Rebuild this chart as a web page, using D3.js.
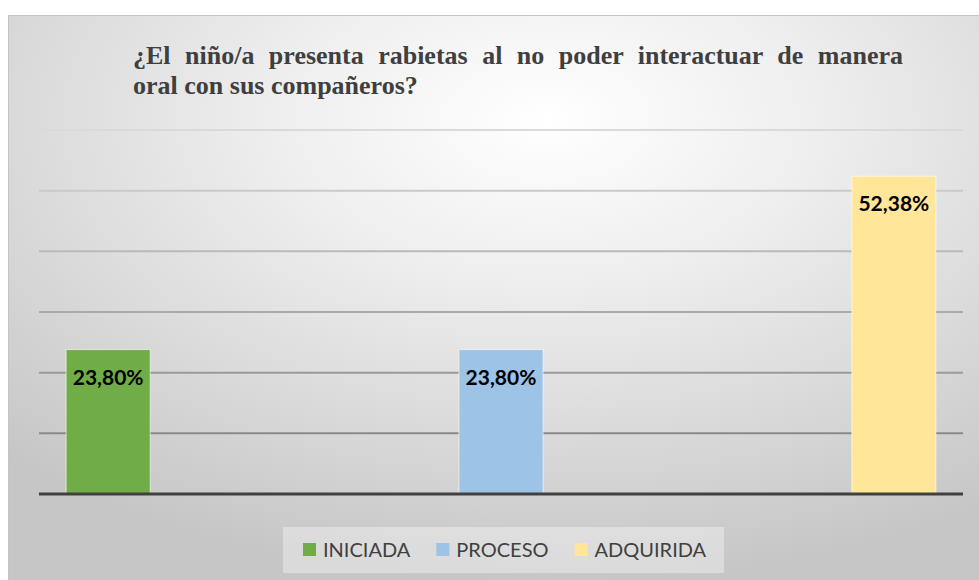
<!DOCTYPE html>
<html>
<head>
<meta charset="utf-8">
<script src="https://cdn.jsdelivr.net/npm/d3@7"></script>
<style>
  body { margin: 0; background: #ffffff; }
  svg { display: block; }
  .title { font-family: "Liberation Serif", "DejaVu Serif", serif; font-weight: bold; font-size: 26px; }
</style>
</head>
<body>
<script>
// data
var categories = ["INICIADA", "PROCESO", "ADQUIRIDA"];
var values = [23.80, 23.80, 52.38];
var valueLabels = ["23,80%", "23,80%", "52,38%"];
var colors = ["#70AD47", "#9DC3E6", "#FFE699"];
var gridTicks = [10, 20, 30, 40, 50, 60];
var titleLines = ["¿El niño/a presenta rabietas al no poder interactuar de manera", "oral con sus compañeros?"];

var W = 979, H = 580;
var plot = { left: 39, right: 963, top: 130, bottom: 494 };

var svg = d3.select("body").append("svg")
    .attr("width", W)
    .attr("height", H);

var defs = svg.append("defs");
var bg = defs.append("radialGradient")
    .attr("id", "bg")
    .attr("cx", "0.55").attr("cy", "0.18").attr("r", "0.8")
    .attr("fx", "0.55").attr("fy", "0.18");
bg.append("stop").attr("offset", "0%").attr("stop-color", "#ffffff");
bg.append("stop").attr("offset", "35%").attr("stop-color", "#eeeeee");
bg.append("stop").attr("offset", "100%").attr("stop-color", "#c6c6c6");

// chart area
svg.append("rect")
    .attr("x", 8.5).attr("y", 15.5)
    .attr("width", W).attr("height", H)
    .attr("fill", "url(#bg)")
    .attr("stroke", "#c4c4c4")
    .attr("stroke-width", 1);

var y = d3.scaleLinear().domain([0, 60]).range([plot.bottom, plot.top]);
var x = d3.scaleBand()
    .domain(categories)
    .range([plot.left, plot.right])
    .paddingInner(0.786)
    .paddingOuter(0.069);

// gridlines get darker toward the bottom
var gridColor = d3.scaleLinear().domain([60, 10]).range(["#dadada", "#8a8a8a"]);
svg.append("g")
    .selectAll("line")
    .data(gridTicks)
    .join("line")
    .attr("x1", plot.left).attr("x2", plot.right)
    .attr("y1", function (d) { return y(d); })
    .attr("y2", function (d) { return y(d); })
    .attr("stroke", function (d) { return gridColor(d); })
    .attr("stroke-width", 2);

// bars
svg.append("g")
    .selectAll("rect")
    .data(values)
    .join("rect")
    .attr("x", function (d, i) { return x(categories[i]); })
    .attr("y", function (d) { return y(d); })
    .attr("width", x.bandwidth())
    .attr("height", function (d) { return y(0) - y(d); })
    .attr("fill", function (d, i) { return colors[i]; })
    .attr("stroke", "rgba(255,255,255,0.6)")
    .attr("stroke-width", 1);

// data labels
svg.append("g")
    .selectAll("text")
    .data(values)
    .join("text")
    .attr("x", function (d, i) { return x(categories[i]) + x.bandwidth() / 2; })
    .attr("y", function (d) { return y(d) + 35; })
    .attr("text-anchor", "middle")
    .style("font-family", "Lato, 'Open Sans', sans-serif")
    .style("font-weight", "bold")
    .style("font-size", "21px")
    .attr("fill", "#000000")
    .text(function (d, i) { return valueLabels[i]; });

// baseline
svg.append("line")
    .attr("x1", plot.left).attr("x2", plot.right)
    .attr("y1", y(0)).attr("y2", y(0))
    .attr("stroke", "#404040")
    .attr("stroke-width", 3);

// title, first line justified
var titleX = 133, titleRight = 903;
var t1 = svg.append("text")
    .attr("class", "title")
    .attr("x", titleX).attr("y", 64)
    .attr("fill", "#3f3f3f")
    .text(titleLines[0]);
var gaps = titleLines[0].split(" ").length - 1;
var w1 = t1.node().getComputedTextLength();
t1.style("word-spacing", ((titleRight - titleX - w1) / gaps) + "px");

svg.append("text")
    .attr("class", "title")
    .attr("x", titleX).attr("y", 94)
    .attr("fill", "#3f3f3f")
    .text(titleLines[1]);

// legend
var legend = svg.append("g");
var legendBox = legend.append("rect")
    .attr("y", 527).attr("height", 46)
    .attr("fill", "rgba(255,255,255,0.35)");

var lx = 303;
categories.forEach(function (c, i) {
    legend.append("rect")
        .attr("x", lx).attr("y", 543)
        .attr("width", 13).attr("height", 13)
        .attr("fill", colors[i]);
    var t = legend.append("text")
        .attr("x", lx + 20).attr("y", 557)
        .style("font-family", "Lato, 'Open Sans', sans-serif")
        .style("font-size", "20px")
        .attr("fill", "#404040")
        .text(c);
    lx += 20 + t.node().getComputedTextLength() + 26;
});
legendBox.attr("x", 283).attr("width", lx - 26 + 18 - 283);
</script>
</body>
</html>
